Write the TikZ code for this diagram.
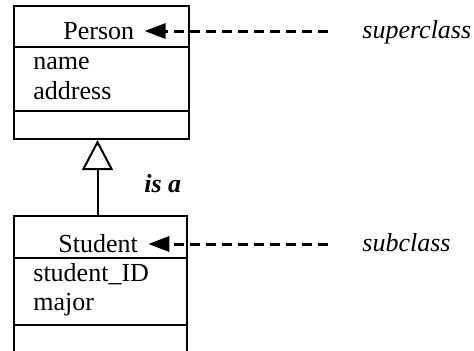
\documentclass[tikz,border=0pt]{standalone}
\usepackage{fontspec}
\setmainfont{Liberation Serif}
\usetikzlibrary{arrows.meta}
\newcommand{\bodysize}{\fontsize{13}{15}\selectfont}

\tikzset{
  lbl/.style={inner sep=0pt, text height=8pt, text depth=1pt, anchor=base west},
  classbox/.style={draw, line width=1pt, anchor=north west, inner sep=0pt},
  hint/.style={dashed, line width=1.5pt, dash pattern=on 5pt off 3pt,
    -{Triangle[length=10.5pt,width=7.5pt]}, shorten <=17pt, shorten >=5pt},
  isa/.style={line width=1pt, -{Triangle[open,length=15pt,width=15.5pt]}}
}

\begin{document}
\begin{tikzpicture}[x=0.5pt, y=-0.5pt, font=\bodysize]
        \useasboundingbox (0,0) rectangle (474,350);

        % class boxes
        \node[classbox, minimum width=87.5pt, minimum height=66.5pt] (personbox) at (13,5) {};
        \draw[line width=1pt] (13,47) -- (188,47);
        \draw[line width=1pt] (13,111) -- (188,111);
        \node[classbox, minimum width=86.5pt, minimum height=72.5pt] (studentbox) at (13,215) {};
        \draw[line width=1pt] (13,258) -- (186,258);
        \draw[line width=1pt] (13,325) -- (186,325);

        \node[lbl] (person) at (63,39) {Person};
        \node[lbl] (name) at (33,69) {name};
        \node[lbl] (address) at (33,99) {address};
        \node[lbl] (student) at (58,252) {Student};
        \node[lbl] (studentid) at (33,281) {student\_ID};
        \node[lbl] (major) at (33,310) {major};

        \node[lbl, font=\bodysize\bfseries\itshape] (isa) at (144,192) {is a};
        \node[lbl, font=\bodysize\itshape] (super) at (362,38) {superclass};
        \node[lbl, font=\bodysize\itshape] (sub) at (362,251) {subclass};

        \coordinate (stem) at ([xshift=-1.5pt]studentbox.north);
        \draw[isa] (stem) -- (stem |- personbox.south);
        \draw[hint] (super.west) -- (super.west -| person.east);
        \draw[hint] (sub.west) -- (sub.west -| student.east);
\end{tikzpicture}
\end{document}
